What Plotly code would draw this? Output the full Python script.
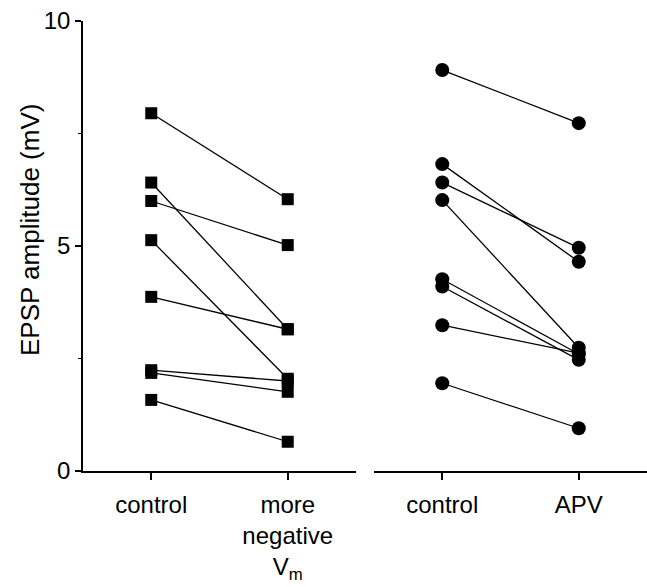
import plotly.graph_objects as go

# ---- data ----
left_labels = ["control", "more<br>negative<br>V<sub>m</sub>"]
right_labels = ["control", "APV"]
vm_control = [7.95, 6.41, 6.00, 5.13, 3.87, 2.24, 2.18, 1.58]
vm_negative = [6.04, 3.15, 5.02, 2.05, 3.15, 2.00, 1.76, 0.65]
apv_control = [8.91, 6.82, 6.41, 6.02, 4.26, 4.10, 3.24, 1.95]
apv_apv = [7.73, 4.65, 4.96, 2.74, 2.60, 2.47, 2.62, 0.95]
y_ticks = [0, 5, 10]
y_title = "EPSP amplitude (mV)"

FONT = "Liberation Sans, Arial, sans-serif"


def pair_lines(a, b):
    xs, ys = [], []
    for va, vb in zip(a, b):
        xs += [0, 1, None]
        ys += [va, vb, None]
    return xs, ys


fig = go.Figure()

# left panel
lx, ly = pair_lines(vm_control, vm_negative)
fig.add_trace(go.Scatter(x=lx, y=ly, mode="lines", line=dict(color="black", width=1.3),
                         xaxis="x", yaxis="y", showlegend=False, hoverinfo="skip"))
fig.add_trace(go.Scatter(x=[0] * len(vm_control) + [1] * len(vm_negative),
                         y=vm_control + vm_negative, mode="markers",
                         marker=dict(symbol="square", size=12, color="black"),
                         xaxis="x", yaxis="y", showlegend=False))

# right panel
rx, ry = pair_lines(apv_control, apv_apv)
fig.add_trace(go.Scatter(x=rx, y=ry, mode="lines", line=dict(color="black", width=1.3),
                         xaxis="x2", yaxis="y", showlegend=False, hoverinfo="skip"))
fig.add_trace(go.Scatter(x=[0] * len(apv_control) + [1] * len(apv_apv),
                         y=apv_control + apv_apv, mode="markers",
                         marker=dict(symbol="circle", size=14, color="black"),
                         xaxis="x2", yaxis="y", showlegend=False))

xcommon = dict(range=[-0.5, 1.5], showgrid=False, zeroline=False, showline=True,
               linecolor="black", linewidth=1.6, ticks="outside", ticklen=7,
               tickwidth=1.5, tickcolor="black", tickvals=[0, 1],
               ticklabelstandoff=4, automargin=False,
               tickfont=dict(family=FONT, size=24, color="black"), fixedrange=True)

fig.update_layout(
    width=647, height=587,
    margin=dict(l=83, r=0, t=21, b=116, autoexpand=False),
    paper_bgcolor="white", plot_bgcolor="white",
    xaxis=dict(domain=[0, 0.484], anchor="y", ticktext=left_labels, **xcommon),
    xaxis2=dict(domain=[0.516, 1.0], anchor="y", ticktext=right_labels, **xcommon),
    yaxis=dict(range=[0, 10], anchor="x", showgrid=False, zeroline=False,
               showline=True, linecolor="black", linewidth=1.6, automargin=False,
               ticks="outside", ticklen=6, tickwidth=1.5, tickcolor="black",
               tickvals=y_ticks,
               minor=dict(tickvals=[2.5, 7.5], ticks="outside", ticklen=3,
                          tickwidth=1.2, tickcolor="black"),
               tickfont=dict(family=FONT, size=24, color="black")),
    annotations=[dict(text=y_title, xref="paper", yref="paper",
                      x=(30 - 83) / 564, y=(471 - 230) / 450,
                      xanchor="center", yanchor="middle", textangle=-90,
                      showarrow=False,
                      font=dict(family=FONT, size=26, color="black"))],
)

fig.write_html("out.html")
